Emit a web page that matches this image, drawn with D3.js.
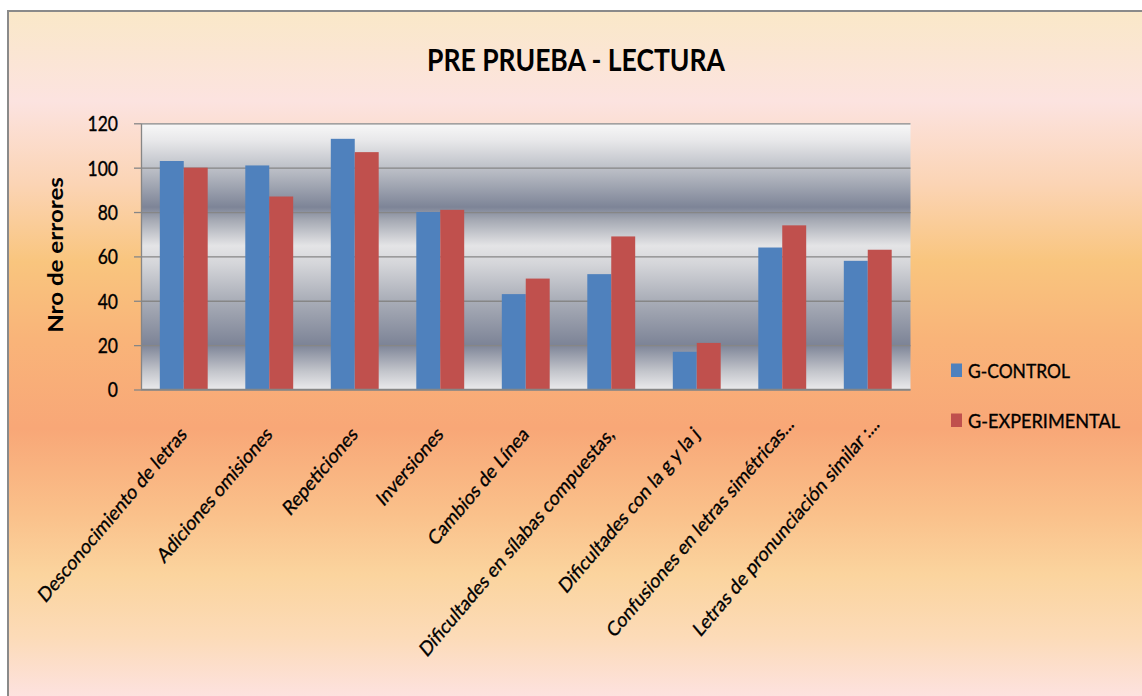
<!DOCTYPE html>
<html>
<head>
<meta charset="utf-8">
<title>PRE PRUEBA - LECTURA</title>
<script src="https://cdn.jsdelivr.net/npm/d3@7"></script>
<style>
  html, body { margin: 0; padding: 0; background: #ffffff; }
  svg { display: block; }
  text { font-family: Lato, "Open Sans", "Liberation Sans", sans-serif; fill: #000; }
  .soft-bold { stroke: #000; stroke-width: 0.3px; }
</style>
</head>
<body>
<svg id="chart" width="1142" height="696"></svg>
<script>
// ---- data ----
const categories = [
  "Desconocimiento de letras",
  "Adiciones omisiones",
  "Repeticiones",
  "Inversiones",
  "Cambios de Línea",
  "Dificultades en sílabas compuestas,",
  "Dificultades con la g y la j",
  "Confusiones en letras simétricas...",
  "Letras de pronunciación similar :..."
];
const seriesNames = ["G-CONTROL", "G-EXPERIMENTAL"];
const controlValues = [103, 101, 113, 80, 43, 52, 17, 64, 58];
const experimentalValues = [100, 87, 107, 81, 50, 69, 21, 74, 63];
const yTicks = [0, 20, 40, 60, 80, 100, 120];
const titleText = "PRE PRUEBA - LECTURA";
const yAxisTitle = "Nro de errores";

// ---- layout & style ----
const W = 1142, H = 696;
const plot = { left: 141, right: 910.5, top: 123.3, bottom: 389.5 };
const colors = { "G-CONTROL": "#4f81bd", "G-EXPERIMENTAL": "#c0504d" };
const SY = 1.18;          // vertical stretch applied to all text
const gridColor = "#868686";

const svg = d3.select("#chart");
const defs = svg.append("defs");

function addGradient(id, stops) {
  const g = defs.append("linearGradient").attr("id", id)
    .attr("x1", 0).attr("y1", 0).attr("x2", 0).attr("y2", 1);
  stops.forEach(([o, c]) => g.append("stop").attr("offset", o).attr("stop-color", c));
}

// warm chart-area fill
addGradient("chartBg", [
  [0.00, "#fae8c8"],
  [0.13, "#fce3e0"],
  [0.25, "#fbd4b4"],
  [0.36, "#f9c57e"],
  [0.47, "#f9b479"],
  [0.60, "#f8a777"],
  [0.72, "#fac08a"],
  [0.81, "#fbd49e"],
  [0.90, "#fcdbb8"],
  [1.00, "#fde3e6"]
]);

// metallic banded plot-area fill
addGradient("plotBg", [
  [0.000, "#f8f8f8"],
  [0.064, "#e8e8ea"],
  [0.195, "#b2b6bf"],
  [0.315, "#7d8497"],
  [0.365, "#a6aab4"],
  [0.460, "#e4e4e6"],
  [0.530, "#d4d5d9"],
  [0.663, "#aaaeb8"],
  [0.831, "#7d8497"],
  [0.933, "#c4c6cc"],
  [1.000, "#eaeaec"]
]);

// chart area with frame
svg.append("rect")
  .attr("x", 8).attr("y", 11).attr("width", W).attr("height", H)
  .attr("fill", "url(#chartBg)")
  .attr("stroke", "#8a8a8a").attr("stroke-width", 2);

// plot area
svg.append("rect")
  .attr("x", plot.left).attr("y", plot.top)
  .attr("width", plot.right - plot.left).attr("height", plot.bottom - plot.top)
  .attr("fill", "url(#plotBg)");

// ---- scales ----
const y = d3.scaleLinear().domain([0, 120]).range([plot.bottom, plot.top]);
const x0 = d3.scaleBand().domain(categories).range([plot.left, plot.right])
  .paddingInner(0.44).paddingOuter(0.22);
const x1 = d3.scaleBand().domain(seriesNames).range([0, x0.bandwidth()]);

// gridlines
const grid = svg.append("g").attr("transform", `translate(${plot.left},0)`)
  .call(d3.axisLeft(y).tickValues(yTicks).tickSize(-(plot.right - plot.left)).tickFormat(""));
grid.select(".domain").remove();
grid.selectAll("line").attr("stroke", gridColor).attr("stroke-width", 1.3);

// bars
const rows = categories.map((c, i) => ({
  category: c,
  values: [
    { series: seriesNames[0], value: controlValues[i] },
    { series: seriesNames[1], value: experimentalValues[i] }
  ]
}));

svg.append("g").selectAll("g").data(rows).join("g")
  .attr("transform", d => `translate(${x0(d.category)},0)`)
  .selectAll("rect").data(d => d.values).join("rect")
  .attr("x", d => x1(d.series))
  .attr("width", x1.bandwidth())
  .attr("y", d => y(d.value))
  .attr("height", d => y(0) - y(d.value))
  .attr("fill", d => colors[d.series]);

// y axis with ticks and labels
const yAxis = svg.append("g").attr("transform", `translate(${plot.left},0)`)
  .call(d3.axisLeft(y).tickValues(yTicks).tickSize(7).tickSizeOuter(0));
yAxis.select(".domain").attr("stroke", gridColor).attr("stroke-width", 1.3);
yAxis.selectAll(".tick line").attr("stroke", gridColor).attr("stroke-width", 1.3);
yAxis.selectAll(".tick text")
  .attr("x", null).attr("dy", "0.36em")
  .attr("transform", `translate(-23,0) scale(1,${SY})`)
  .attr("text-anchor", "end")
  .attr("class", "soft-bold")
  .style("font-size", "17.5px")
  .attr("fill", "#000");

// baseline along zero
svg.append("line")
  .attr("x1", plot.left).attr("x2", plot.right)
  .attr("y1", y(0)).attr("y2", y(0))
  .attr("stroke", gridColor).attr("stroke-width", 1.5);

// category labels, rotated; a trailing ellipsis runs past the anchor
const labelY = y(0) + 46;
svg.append("g").selectAll("text").data(categories).join("text")
  .attr("transform", d => `translate(${x0(d) + x0.bandwidth() / 2 + 4},${labelY}) scale(1,${SY}) rotate(-45)`)
  .attr("class", "soft-bold")
  .style("font-size", "17.3px")
  .each(function (d) {
    const t = d3.select(this);
    const m = d.match(/^(.*?)(\.\.\.)?$/);
    const main = m[1], tail = m[2] || "";
    t.text(main);
    const len = this.getComputedTextLength();
    t.attr("text-anchor", "start").attr("x", -len);
    if (tail) t.append("tspan").text(tail);
  });

// title
svg.append("text")
  .attr("transform", `translate(576,71) scale(1,${SY})`)
  .attr("text-anchor", "middle")
  .attr("textLength", 298).attr("lengthAdjust", "spacingAndGlyphs")
  .style("font-size", "25px").style("font-weight", "bold")
  .text(titleText);

// y axis title
svg.append("text")
  .attr("transform", `translate(62.5,255) scale(1,${SY}) rotate(-90)`)
  .attr("text-anchor", "middle")
  .attr("textLength", 132).attr("lengthAdjust", "spacingAndGlyphs")
  .style("font-size", "20.5px").style("font-weight", "bold")
  .text(yAxisTitle);

// legend
const legendTextWidth = { "G-CONTROL": 102, "G-EXPERIMENTAL": 152 };
const legend = svg.append("g").attr("transform", "translate(951,363.5)");
const legendItems = legend.selectAll("g").data(seriesNames).join("g")
  .attr("transform", (d, i) => `translate(0,${i * 50})`);
legendItems.append("rect")
  .attr("width", 11).attr("height", 13.5)
  .attr("fill", d => colors[d]);
legendItems.append("text")
  .attr("transform", `translate(17,14) scale(1,${SY})`)
  .attr("class", "soft-bold")
  .attr("textLength", d => legendTextWidth[d]).attr("lengthAdjust", "spacingAndGlyphs")
  .style("font-size", "17px")
  .text(d => d);
</script>
</body>
</html>
